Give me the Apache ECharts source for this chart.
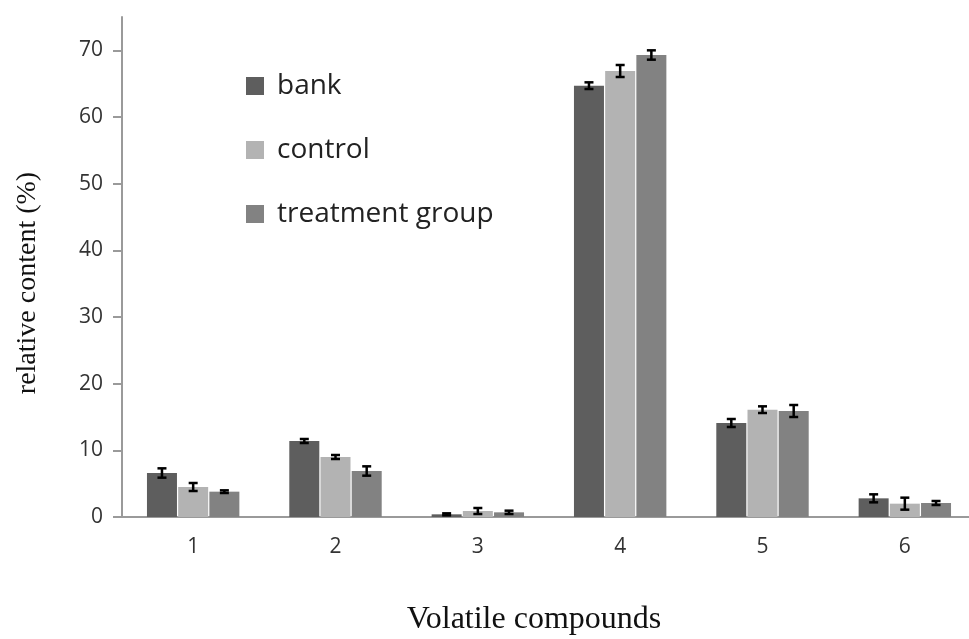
<!DOCTYPE html>
<html>
<head>
<meta charset="utf-8">
<script src="https://cdn.jsdelivr.net/npm/echarts@6/dist/echarts.min.js"></script>
<style>html,body{margin:0;padding:0;background:#fff}#c{width:969px;height:639px}</style>
</head>
<body>
<div id="c"></div>
<script>
const categories = ['1', '2', '3', '4', '5', '6'];
const seriesNames = ['bank', 'control', 'treatment group'];
const bank = [6.6, 11.4, 0.4, 64.7, 14.1, 2.8];
const bankErr = [0.7, 0.3, 0.15, 0.5, 0.6, 0.6];
const control = [4.5, 9.0, 0.9, 66.9, 16.1, 2.0];
const controlErr = [0.6, 0.3, 0.45, 0.9, 0.5, 0.9];
const treatment = [3.8, 6.9, 0.7, 69.3, 15.9, 2.1];
const treatmentErr = [0.2, 0.7, 0.25, 0.7, 0.9, 0.3];
const yTicks = [0, 10, 20, 30, 40, 50, 60, 70];

const colors = ['#5e5e5e', '#b3b3b3', '#828282'];
const BAR_W = 30;
const GAP = 0.04;
const step = BAR_W * (1 + GAP);
const offsets = [-step, 0, step];

function barSeries(name, vals, color) {
  return {
    name: name, type: 'bar', data: vals, barWidth: BAR_W, barGap: (GAP * 100) + '%',
    itemStyle: { color: color }, z: 2
  };
}
function errSeries(name, vals, errs, offset) {
  return {
    name: name + ' err', type: 'custom', z: 5,
    data: vals.map((v, i) => [i, v, errs[i]]),
    encode: { x: 0, y: 1 },
    renderItem: function (params, api) {
      const i = api.value(0), v = api.value(1), e = api.value(2);
      const top = api.coord([i, v + e]);
      const bot = api.coord([i, v - e]);
      const x = top[0] + offset;
      const hw = 4.5;
      const st = { stroke: '#000', lineWidth: 2.5 };
      return {
        type: 'group',
        children: [
          { type: 'line', shape: { x1: x, y1: top[1], x2: x, y2: bot[1] }, style: st },
          { type: 'line', shape: { x1: x - hw, y1: top[1], x2: x + hw, y2: top[1] }, style: st },
          { type: 'line', shape: { x1: x - hw, y1: bot[1], x2: x + hw, y2: bot[1] }, style: st }
        ]
      };
    }
  };
}

const chart = echarts.init(document.getElementById('c'), null, { renderer: 'canvas' });
chart.setOption({
  animation: false,
  backgroundColor: '#fff',
  grid: { left: 122, top: 17, right: -7, bottom: 122, containLabel: false, outerBoundsMode: 'none' },
  legend: {
    data: seriesNames,
    orient: 'vertical', left: 241, top: 67,
    itemWidth: 18, itemHeight: 18, itemGap: 36, icon: 'rect',
    textStyle: { fontFamily: 'Open Sans', fontSize: 28, color: '#222', lineHeight: 28, padding: [0, 0, 0, 8] }
  },
  xAxis: {
    type: 'category', data: categories,
    name: 'Volatile compounds', nameLocation: 'middle', nameGap: 87,
    nameTextStyle: { fontFamily: 'Liberation Serif', fontSize: 32, color: '#111', padding: [0, 30, 0, 0] },
    axisLine: { lineStyle: { color: '#9a9a9a', width: 2 } },
    axisTick: { length: 9, lineStyle: { color: '#9a9a9a', width: 2 } },
    axisLabel: { margin: 20, fontFamily: 'Open Sans', fontSize: 21, color: '#333' }
  },
  yAxis: {
    type: 'value', min: 0, max: 75,
    name: 'relative content (%)', nameLocation: 'middle', nameGap: 80, nameRotate: 90,
    nameTextStyle: { fontFamily: 'Liberation Serif', fontSize: 28, color: '#111', padding: [0, 32, 0, 0] },
    splitLine: { show: false },
    axisLine: { show: true, lineStyle: { color: '#9a9a9a', width: 2 } },
    axisTick: { show: true, length: 9, customValues: yTicks, lineStyle: { color: '#9a9a9a', width: 2 } },
    axisLabel: { margin: 19, customValues: yTicks, fontFamily: 'Open Sans', fontSize: 21, color: '#333' }
  },
  series: [
    barSeries(seriesNames[0], bank, colors[0]),
    barSeries(seriesNames[1], control, colors[1]),
    barSeries(seriesNames[2], treatment, colors[2]),
    errSeries(seriesNames[0], bank, bankErr, offsets[0]),
    errSeries(seriesNames[1], control, controlErr, offsets[1]),
    errSeries(seriesNames[2], treatment, treatmentErr, offsets[2])
  ]
});
</script>
</body>
</html>
